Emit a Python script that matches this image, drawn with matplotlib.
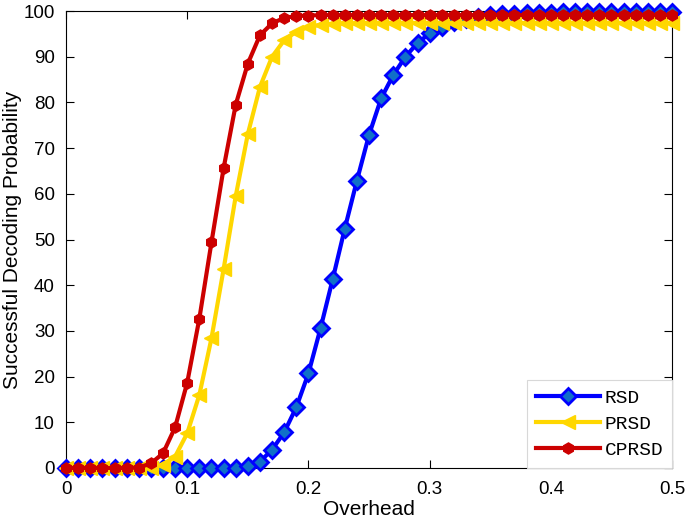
import matplotlib
matplotlib.use("Agg")
import matplotlib.pyplot as plt

# -----------------------------
# Data
# -----------------------------
overhead = [i / 100 for i in range(51)]

rsd = [0, 0, 0, 0, 0, 0, 0, 0, 0, 0,
       0, 0, 0, 0, 0.1, 0.5, 1.4, 4.0, 7.8, 13.3,
       20.7, 30.6, 41.3, 52.4, 62.9, 72.9, 80.9, 86.0, 90.0, 93.0,
       95.1, 96.5, 97.5, 98.2, 98.7, 99.1, 99.3, 99.4, 99.5, 99.6,
       99.6, 99.7, 99.7, 99.7, 99.7, 99.8, 99.8, 99.8, 99.8, 99.8,
       99.8]

prsd = [0, 0, 0, 0, 0, 0, 0, 0.1, 0.7, 2.5,
        7.6, 16.0, 28.4, 43.5, 59.5, 73.1, 83.4, 90.0, 93.6, 95.5,
        96.5, 97.0, 97.2, 97.3, 97.3, 97.4, 97.4, 97.4, 97.4, 97.4,
        97.4, 97.4, 97.4, 97.4, 97.4, 97.4, 97.4, 97.4, 97.4, 97.4,
        97.4, 97.4, 97.4, 97.4, 97.4, 97.4, 97.4, 97.4, 97.4, 97.4,
        97.4]

cprsd = [0, 0, 0, 0, 0, 0, 0.1, 1.0, 3.2, 8.9,
         18.7, 32.7, 49.4, 65.6, 79.5, 88.5, 94.7, 97.3, 98.5, 98.9,
         99.0, 99.1, 99.1, 99.1, 99.1, 99.1, 99.1, 99.1, 99.1, 99.1,
         99.1, 99.1, 99.1, 99.1, 99.1, 99.1, 99.1, 99.1, 99.1, 99.1,
         99.1, 99.1, 99.1, 99.1, 99.1, 99.1, 99.1, 99.1, 99.1, 99.1,
         99.1]

labels = ["RSD", "PRSD", "CPRSD"]
xticks = [0, 0.1, 0.2, 0.3, 0.4, 0.5]
xticklabels = ["0", "0.1", "0.2", "0.3", "0.4", "0.5"]

# -----------------------------
# Figure
# -----------------------------
plt.rcParams["font.family"] = ["Liberation Sans", "DejaVu Sans"]

fig = plt.figure(figsize=(6.85, 5.2), dpi=100)
ax = fig.add_axes([0.0964, 0.1, 0.8847, 0.8788])

ax.plot(overhead, rsd, color="#0000ff", lw=3, marker="D", markersize=8,
        markerfacecolor="#1070c8", markeredgecolor="#0000ff",
        markeredgewidth=2, label=labels[0], clip_on=False, zorder=3)
ax.plot(overhead, prsd, color="#ffd700", lw=3, marker="<", markersize=9.5,
        markerfacecolor="#ffd700", markeredgecolor="#ffd700",
        label=labels[1], clip_on=False, zorder=4)
ax.plot(overhead, cprsd, color="#cc0000", lw=3, marker="h", markersize=8,
        markerfacecolor="#cc0000", markeredgecolor="#cc0000",
        label=labels[2], clip_on=False, zorder=5)

ax.set_xlim(0, 0.5)
ax.set_ylim(0, 100)
ax.set_xticks(xticks)
ax.set_xticklabels(xticklabels)
ax.set_yticks(range(0, 101, 10))
ax.tick_params(direction="in", top=True, right=True, labelsize=13.5,
               length=6, width=0.8)
ax.tick_params(axis="x", pad=9)
ax.tick_params(axis="y", pad=8)

ax.set_xlabel("Overhead", fontsize=15, labelpad=2)
ax.set_ylabel("Successful Decoding Probability", fontsize=15)
ax.yaxis.set_label_coords(-0.072, 0.5)

leg = ax.legend(loc="lower right", prop={"family": "Liberation Mono", "size": 14},
                frameon=True, fancybox=False, edgecolor="#d8d8d8",
                framealpha=1, borderaxespad=0, handlelength=3.3,
                labelspacing=0.45, borderpad=0.45, handletextpad=0.25)
leg.get_frame().set_linewidth(0.8)
leg.set_zorder(10)

fig.savefig("out.png", dpi=100)
